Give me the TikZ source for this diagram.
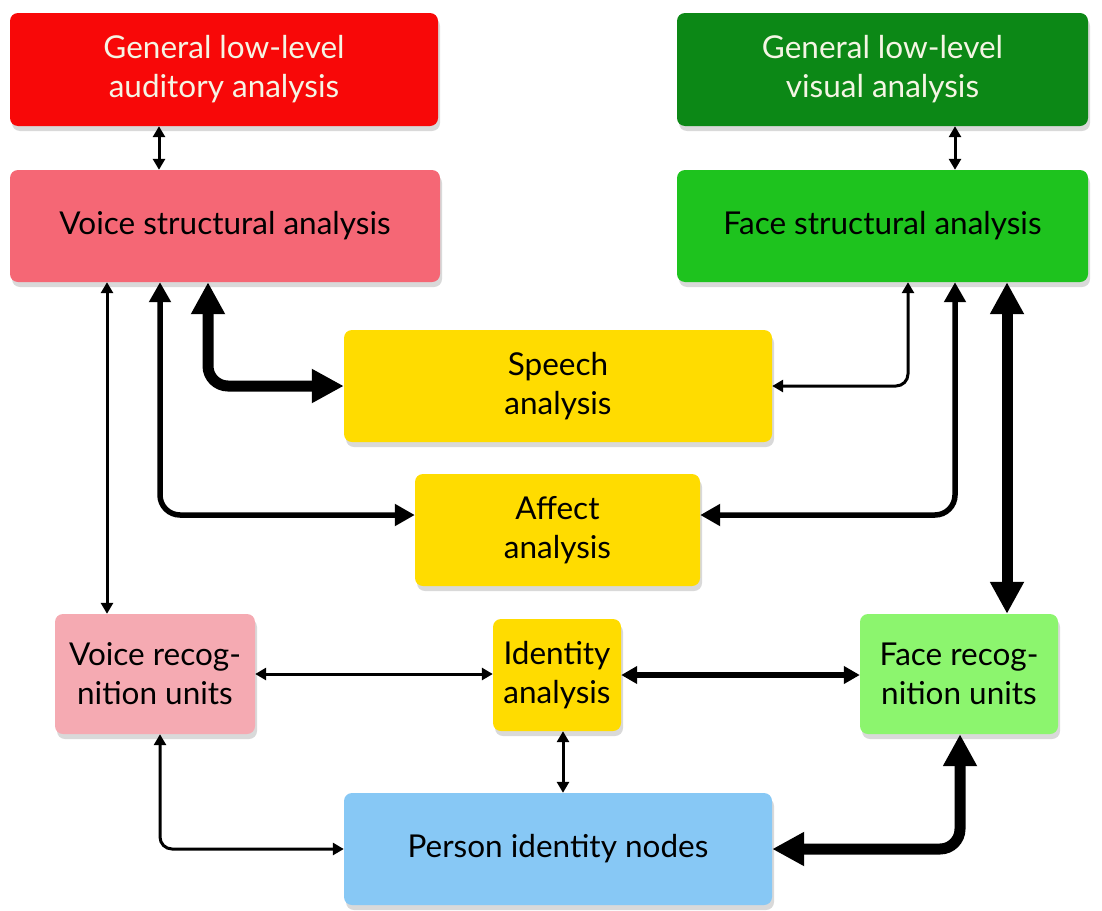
\documentclass[tikz,border=0pt]{standalone}
\usepackage{fontspec}
\setmainfont{Lato}
\usetikzlibrary{arrows.meta,shadows,calc}
\definecolor{cRed}{RGB}{248,8,8}
\definecolor{cDGreen}{RGB}{12,136,22}
\definecolor{cVS}{RGB}{245,103,117}
\definecolor{cFS}{RGB}{30,195,30}
\definecolor{cYel}{RGB}{255,220,0}
\definecolor{cVR}{RGB}{245,170,178}
\definecolor{cFR}{RGB}{140,245,110}
\definecolor{cPN}{RGB}{135,200,245}
\definecolor{cTxt}{RGB}{245,245,228}
\tikzset{
  box/.style={rounded corners=8pt, draw=none, align=center, inner sep=0pt,
    font=\fontsize{31.5}{39}\selectfont, text=black,
    drop shadow={shadow xshift=2pt, shadow yshift=-5pt, opacity=0.25, fill=black!60}},
  thinarr/.style={line width=3pt, {Triangle[length=11pt,width=12pt]}-{Triangle[length=11pt,width=12pt]}, rounded corners=12pt},
  medarr/.style={line width=5.5pt, {Triangle[length=20pt,width=21pt]}-{Triangle[length=20pt,width=21pt]}, rounded corners=20pt},
  thickarr/.style={line width=11pt, {Triangle[length=32pt,width=32pt]}-{Triangle[length=32pt,width=32pt]}, rounded corners=20pt},
}
\begin{document}
\begin{tikzpicture}[x=1pt,y=-1pt]
\useasboundingbox (0,0) rectangle (1102,910);
\node[box, fill=cRed, text=cTxt, minimum width=428pt, minimum height=113pt] (rd) at (224,69.5) {General low-level\\auditory analysis};
\node[box, fill=cDGreen, text=cTxt, minimum width=411pt, minimum height=113pt] (gr) at (882.5,69.5) {General low-level\\visual analysis};
\node[box, fill=cVS, minimum width=430pt, minimum height=112pt] (vs) at (225,226) {Voice structural analysis};
\node[box, fill=cFS, minimum width=411pt, minimum height=112pt] (fs) at (882.5,226) {Face structural analysis};
\node[box, fill=cYel, minimum width=428pt, minimum height=112pt] (sp) at (558,386) {Speech\\analysis};
\node[box, fill=cYel, minimum width=285pt, minimum height=112pt] (af) at (557.5,530) {Affect\\analysis};
\node[box, fill=cVR, minimum width=200pt, minimum height=120pt] (vr) at (155,674) {Voice recog-\\nition units};
\node[box, fill=cYel, minimum width=128pt, minimum height=112pt] (id) at (557,675) {Identity\\analysis};
\node[box, fill=cFR, minimum width=198pt, minimum height=120pt] (fr) at (959,674) {Face recog-\\nition units};
\node[box, fill=cPN, minimum width=428pt, minimum height=112pt] (pn) at (558,849) {Person identity nodes};

% top links
\draw[thinarr] (rd.south -| 159,0) -- (vs.north -| 159,0);
\draw[thinarr] (gr.south -| 955,0) -- (fs.north -| 955,0);
% left side
\draw[thinarr] (vs.south -| 107,0) -- (vr.north -| 107,0);
\draw[medarr] (vs.south -| 160,0) |- ($(af.west)+(0,-15)$);
\draw[thickarr] (vs.south -| 208,0) |- (sp.west);
% right side
\draw[thinarr] (fs.south -| 908,0) |- (sp.east);
\draw[medarr] (fs.south -| 955,0) |- ($(af.east)+(0,-15)$);
\draw[thickarr] (fs.south -| 1007,0) -- (fr.north -| 1007,0);
% bottom
\draw[thinarr] (vr.east) -- (vr.east -| id.west);
\draw[medarr, {Triangle[length=16pt,width=17pt]}-{Triangle[length=16pt,width=17pt]}] (id.east) -- (id.east -| fr.west);
\draw[thinarr] (id.south -| 563,0) -- (pn.north -| 563,0);
\draw[thinarr] (vr.south -| 160,0) |- (pn.west);
\draw[thickarr] (fr.south -| 960,0) |- (pn.east);
\end{tikzpicture}
\end{document}
